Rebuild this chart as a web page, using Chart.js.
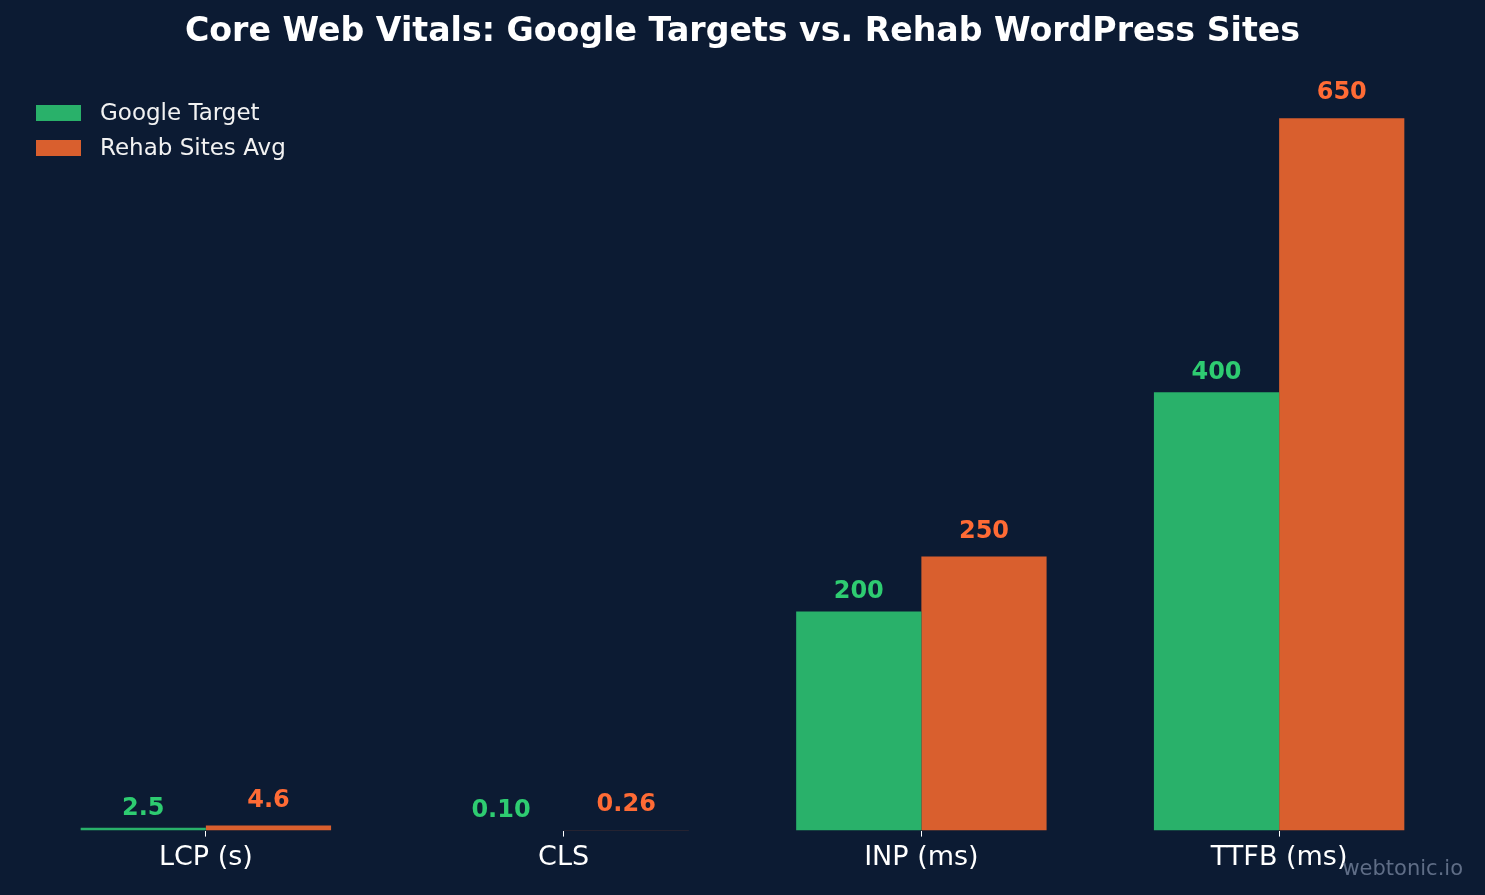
<!DOCTYPE html>
<html>
<head>
<meta charset="utf-8">
<script src="https://cdn.jsdelivr.net/npm/chart.js@4.4.1/dist/chart.umd.min.js"></script>
<style>
  html, body { margin: 0; padding: 0; background: #0c1b33; }
  #wrap { width: 1485px; height: 895px; }
</style>
</head>
<body>
<div id="wrap"><canvas id="myChart" width="1485" height="895"></canvas></div>
<script>
// chart data
var categories = ["LCP (s)", "CLS", "INP (ms)", "TTFB (ms)"];
var googleTarget = [2.5, 0.10, 200, 400];
var rehabAvg = [4.6, 0.26, 250, 650];
var decimals = [1, 2, 0, 0];
var seriesNames = ["Google Target", "Rehab Sites Avg"];

var barColors = ["#29b16a", "#d95f2e"];
var labelColors = ["#2ecc71", "#ff6b35"];
var labelGap = [13, 19];
var FONT = "'DejaVu Sans', sans-serif";

// value labels above each bar
var valueLabels = {
  id: 'valueLabels',
  afterDatasetsDraw: function(chart) {
    var ctx = chart.ctx;
    ctx.save();
    ctx.font = "bold 24px " + FONT;
    ctx.textAlign = 'center';
    ctx.textBaseline = 'alphabetic';
    chart.data.datasets.forEach(function(ds, di) {
      var meta = chart.getDatasetMeta(di);
      ctx.fillStyle = labelColors[di];
      meta.data.forEach(function(bar, i) {
        var txt = ds.data[i].toFixed(decimals[i]);
        ctx.fillText(txt, bar.x, bar.y - labelGap[di]);
      });
    });
    ctx.restore();
  }
};

// matplotlib style legend inside the plot + watermark
var extras = {
  id: 'extras',
  afterDraw: function(chart) {
    var ctx = chart.ctx;
    ctx.save();
    ctx.font = "23px " + FONT;
    ctx.textBaseline = 'middle';
    ctx.textAlign = 'left';
    seriesNames.forEach(function(name, i) {
      var cy = 113 + i * 35;
      ctx.fillStyle = barColors[i];
      ctx.fillRect(36, cy - 8, 45, 16);
      ctx.fillStyle = "#f2f2f2";
      ctx.fillText(name, 100, cy + 1);
    });
    ctx.font = "21px " + FONT;
    ctx.textAlign = 'right';
    ctx.fillStyle = "#5f6d86";
    ctx.fillText("webtonic.io", 1463, 870);
    ctx.restore();
  }
};

var ctx = document.getElementById('myChart');

new Chart(ctx, {
  type: 'bar',
  data: {
    labels: categories,
    datasets: [{
      label: seriesNames[0],
      data: googleTarget,
      backgroundColor: barColors[0],
      categoryPercentage: 0.7,
      barPercentage: 1.0
    }, {
      label: seriesNames[1],
      data: rehabAvg,
      backgroundColor: barColors[1],
      categoryPercentage: 0.7,
      barPercentage: 1.0
    }]
  },
  options: {
    responsive: false,
    animation: false,
    layout: { padding: { left: 27, right: 27, top: 0, bottom: 16 } },
    scales: {
      x: {
        grid: { display: true, offset: false, drawOnChartArea: false, drawTicks: true, tickLength: 6, color: '#ffffff' },
        border: { display: false },
        ticks: { color: '#ffffff', font: { family: FONT, size: 27 }, padding: 5 }
      },
      y: {
        display: false,
        min: 0,
        max: 713
      }
    },
    plugins: {
      legend: { display: false },
      tooltip: { enabled: false },
      title: {
        display: true,
        text: "Core Web Vitals: Google Targets vs. Rehab WordPress Sites",
        color: '#ffffff',
        font: { family: FONT, size: 33.2, weight: 'bold', lineHeight: 1.0 },
        padding: { top: 16, bottom: 0 }
      }
    }
  },
  plugins: [valueLabels, extras]
});
</script>
</body>
</html>
